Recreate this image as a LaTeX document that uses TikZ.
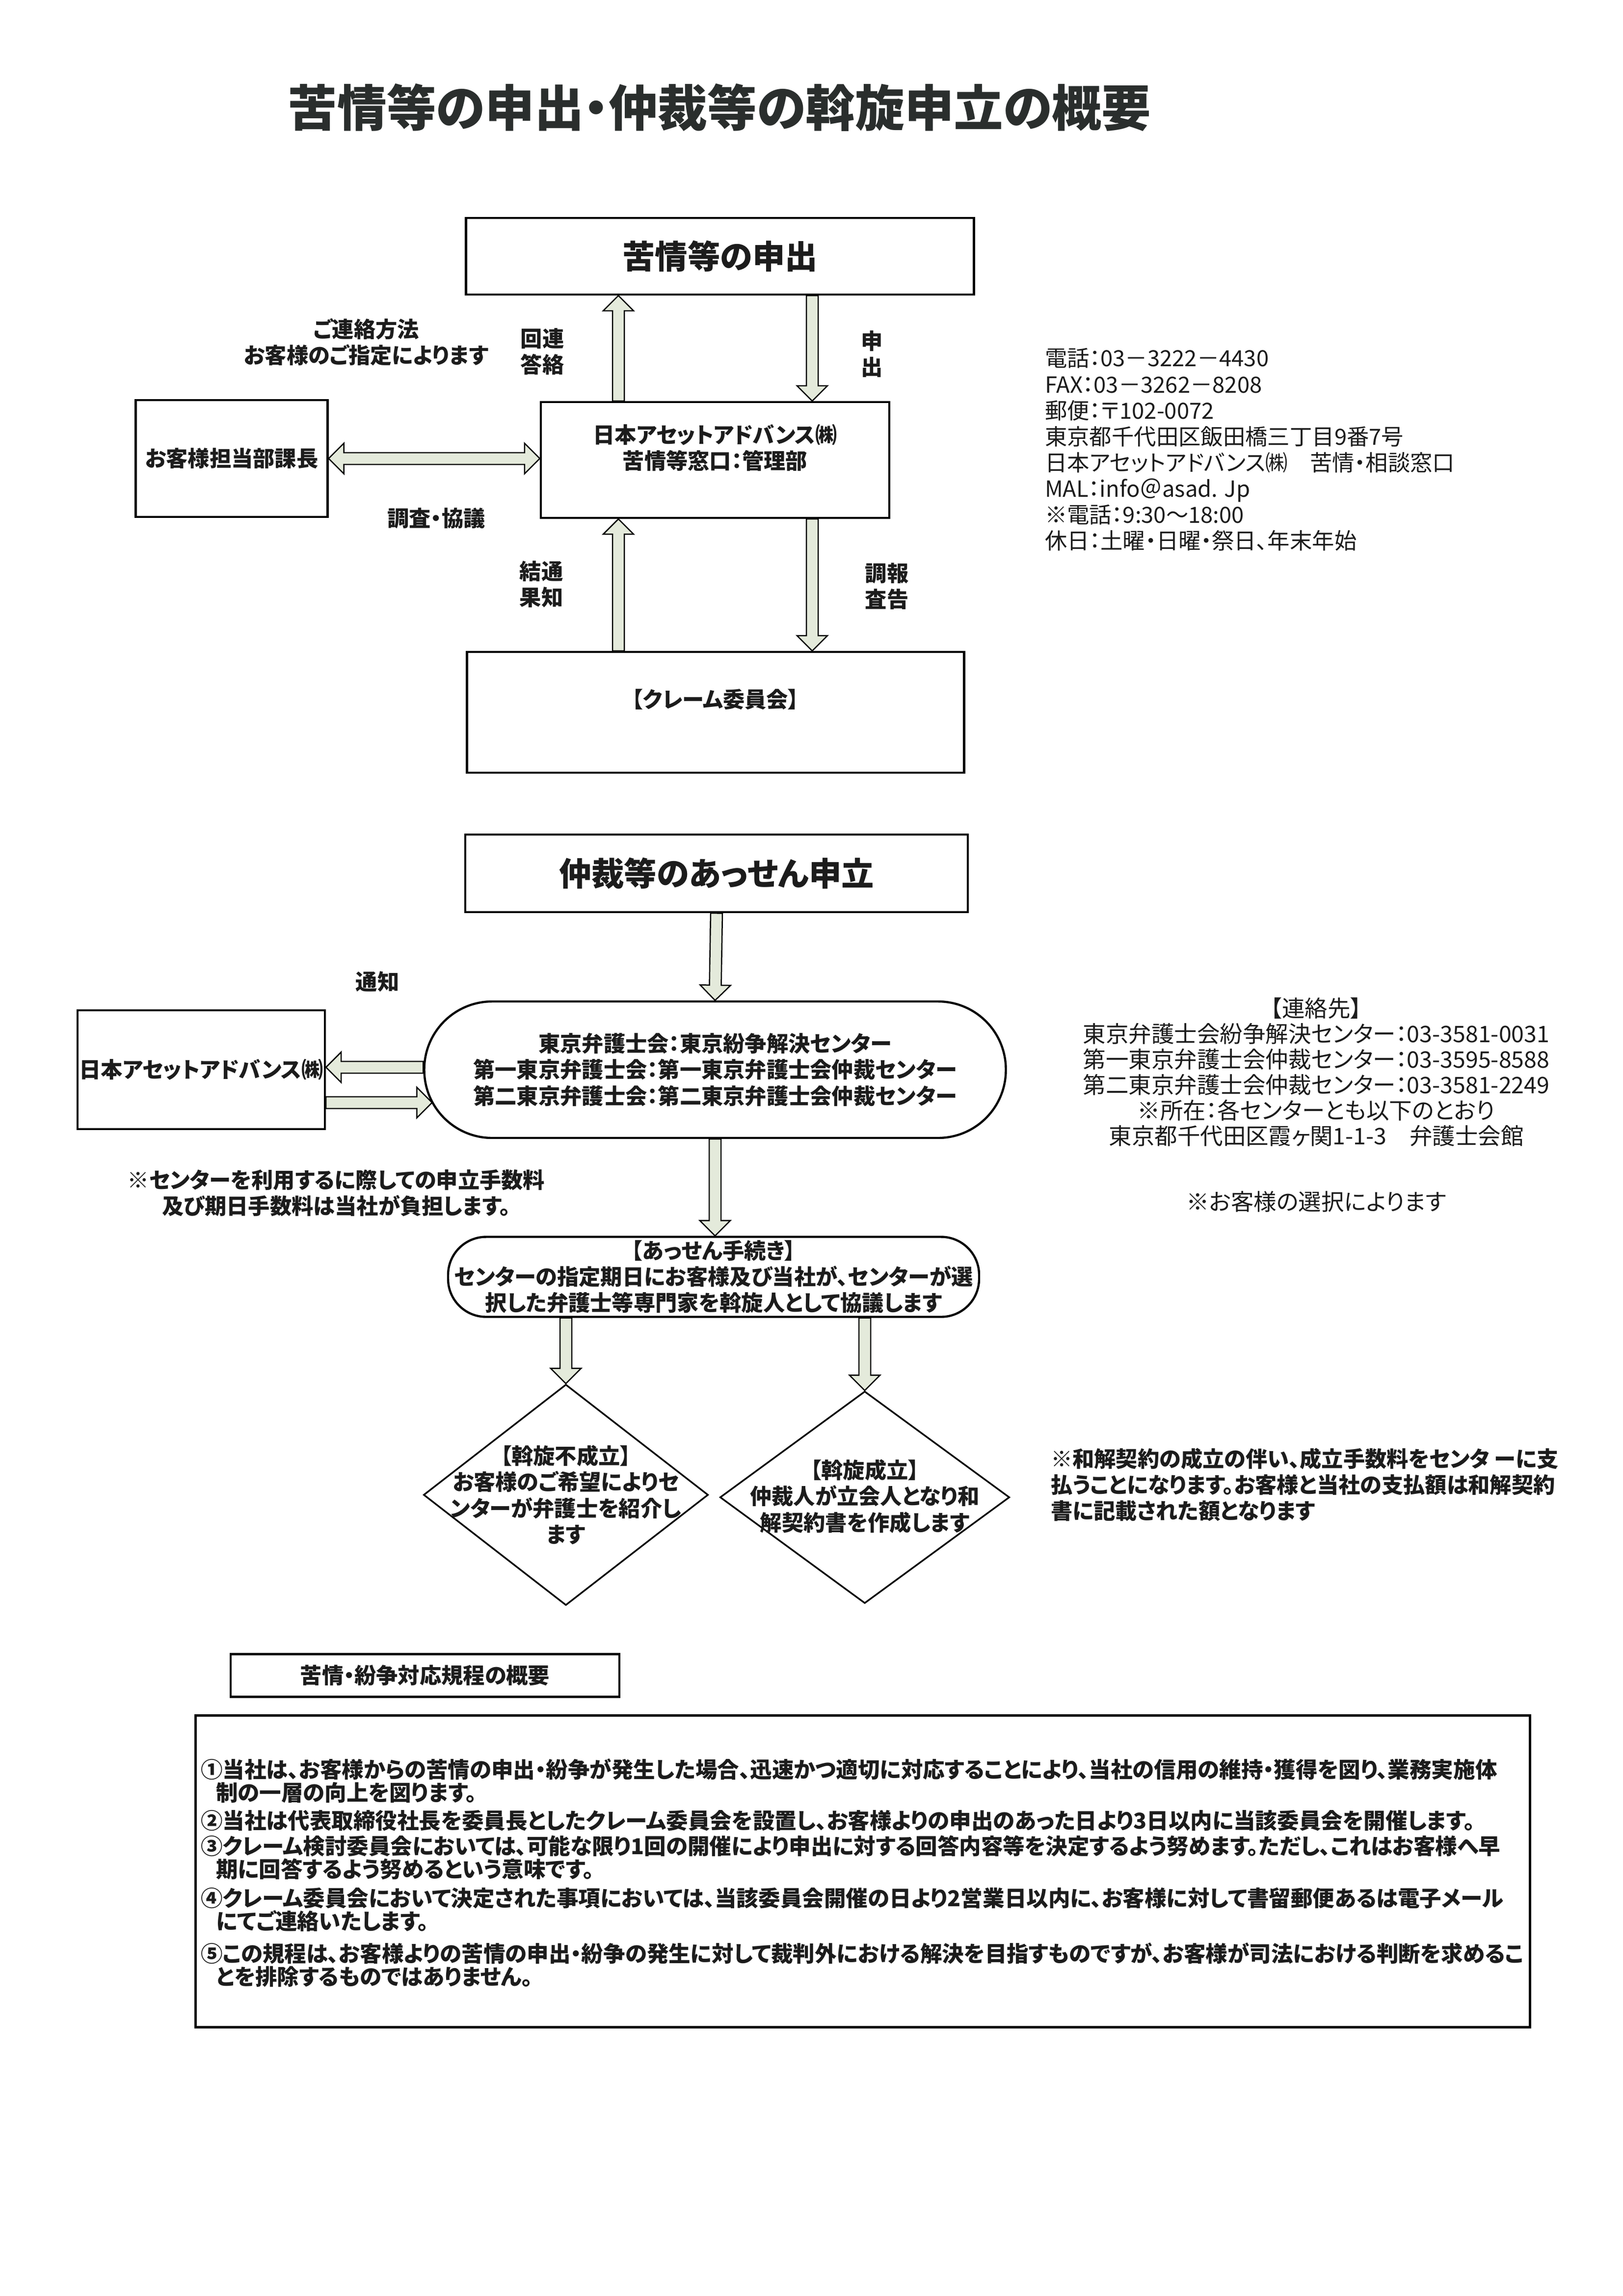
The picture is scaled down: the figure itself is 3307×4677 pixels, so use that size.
\documentclass[tikz,border=0pt]{standalone}
\usepackage{fontspec}
\setmainfont{Noto Sans CJK JP}[CharacterWidth=AlternateProportional]
\usetikzlibrary{calc, shapes.geometric}

\newlength{\dpx}
\setlength{\dpx}{0.0635mm}
\newlength{\shafthalf}\setlength{\shafthalf}{12\dpx}
\newlength{\headhalf}\setlength{\headhalf}{31\dpx}
\newlength{\headlen}\setlength{\headlen}{31\dpx}

\definecolor{ink}{HTML}{1C1C1C}
\definecolor{titleink}{HTML}{2A2E2D}
\definecolor{arrowgreen}{HTML}{E4EADB}

% hollow block arrow from #1 to #2
\newcommand{\blockarrow}[2]{%
  \draw[arrowbody] let \p1=(#1), \p2=(#2),
      \n1={atan2(\y2-\y1,\x2-\x1)}, \n2={veclen(\x2-\x1,\y2-\y1)} in
    ($(\p1)+(\n1+90:\shafthalf)$)
    -- ($(\p1)+(\n1:{\n2-\headlen})+(\n1+90:\shafthalf)$)
    -- ($(\p1)+(\n1:{\n2-\headlen})+(\n1+90:\headhalf)$)
    -- (\p2)
    -- ($(\p1)+(\n1:{\n2-\headlen})+(\n1-90:\headhalf)$)
    -- ($(\p1)+(\n1:{\n2-\headlen})+(\n1-90:\shafthalf)$)
    -- ($(\p1)+(\n1-90:\shafthalf)$) -- cycle;}
% same, with a head on both ends
\newcommand{\dblockarrow}[2]{%
  \draw[arrowbody] let \p1=(#1), \p2=(#2),
      \n1={atan2(\y2-\y1,\x2-\x1)}, \n2={veclen(\x2-\x1,\y2-\y1)} in
    (\p1)
    -- ($(\p1)+(\n1:\headlen)+(\n1+90:\headhalf)$)
    -- ($(\p1)+(\n1:\headlen)+(\n1+90:\shafthalf)$)
    -- ($(\p1)+(\n1:{\n2-\headlen})+(\n1+90:\shafthalf)$)
    -- ($(\p1)+(\n1:{\n2-\headlen})+(\n1+90:\headhalf)$)
    -- (\p2)
    -- ($(\p1)+(\n1:{\n2-\headlen})+(\n1-90:\headhalf)$)
    -- ($(\p1)+(\n1:{\n2-\headlen})+(\n1-90:\shafthalf)$)
    -- ($(\p1)+(\n1:\headlen)+(\n1-90:\shafthalf)$)
    -- ($(\p1)+(\n1:\headlen)+(\n1-90:\headhalf)$) -- cycle;}

\begin{document}
\begin{tikzpicture}[x=\dpx, y=-\dpx,
        box/.style={draw=black, line width=0.8pt, fill=white, inner sep=0pt, text=ink},
        pill/.style={box, rounded corners=#1},
        dia/.style={draw=black, line width=0.6pt, fill=white, diamond, inner sep=0pt},
        arrowbody/.style={draw=black, line width=0.45pt, fill=arrowgreen},
        title/.style={font=\fontsize{18.2}{20}\selectfont\bfseries, text=titleink},
        head/.style={font=\fontsize{12}{14}\selectfont\bfseries, text=ink},
        txt/.style={font=\fontsize{8}{9.6}\selectfont\bfseries, text=ink, align=center, inner sep=0pt},
        info/.style={font=\fontsize{8.2}{9.6}\selectfont, text=ink, inner sep=0pt},
        rule/.style={font=\fontsize{8.05}{8.4}\selectfont\bfseries, text=ink, align=left,
                     inner sep=0pt, anchor=base west},
        ]
        \fill[white] (0,0) rectangle (3307,4677);
        \useasboundingbox (0,0) rectangle (3307,4677);

        \node[title] (heading) at (1466,219) {苦情等の申出・仲裁等の斡旋申立の概要};

        % complaints
        \node[box, head, minimum width=1035\dpx, minimum height=156\dpx] (apply) at (1467,522) {苦情等の申出};
        \node[box, minimum width=710\dpx, minimum height=236\dpx,
              label={[txt, yshift=4.5pt]center:日本アセットアドバンス㈱\\苦情等窓口：管理部}] (window) at (1457,937) {};
        \node[box, txt, minimum width=391\dpx, minimum height=238\dpx] (custmgr) at (472,934) {お客様担当部課長};
        \node[box, minimum width=1013\dpx, minimum height=246\dpx,
              label={[txt, yshift=4.7pt]center:【クレーム委員会】}] (claim) at (1458,1451) {};

        \node[txt] (howcontact) at (746,697) {ご連絡方法\\お客様のご指定によります};
        \node[txt] (replylbl) at (1105,716) {回連\\答絡};
        \node[txt] (applylbl) at (1777,721) {申\\出};
        \node[txt] (consultlbl) at (889,1056) {調査・協議};
        \node[txt] (resultlbl) at (1103,1190) {結通\\果知};
        \node[txt] (reportlbl) at (1807,1194) {調報\\査告};

        \coordinate (colL) at (1260,0);
        \coordinate (colR) at (1655,0);
        \blockarrow{window.north -| colL}{apply.south -| colL}
        \blockarrow{apply.south -| colR}{window.north -| colR}
        \dblockarrow{custmgr.east}{window.west |- custmgr.east}
        \blockarrow{claim.north -| colL}{window.south -| colL}
        \blockarrow{window.south -| colR}{claim.north -| colR}

        \node[info, align=left, anchor=west] (office) at (2128,916) {電話：03－3222－4430\\
            FAX：03－3262－8208\\
            郵便：〒102-0072\\
            東京都千代田区飯田橋三丁目9番7号\\
            日本アセットアドバンス㈱　苦情・相談窓口\\
            MAL：info＠asad. Jp\\
            ※電話：9:30～18:00\\
            休日：土曜・日曜・祭日、年末年始};

        % mediation
        \node[box, head, minimum width=1024\dpx, minimum height=158\dpx] (mediate) at (1460,1779) {仲裁等のあっせん申立};
        \node[pill=25pt, txt, minimum width=1185\dpx, minimum height=278\dpx] (centers) at (1457,2179)
            {東京弁護士会：東京紛争解決センター\\第一東京弁護士会：第一東京弁護士会仲裁センター\\第二東京弁護士会：第二東京弁護士会仲裁センター};
        \node[box, txt, minimum width=504\dpx, minimum height=242\dpx] (company) at (410,2179) {日本アセットアドバンス㈱};
        \node[txt] (notify) at (769,2000) {通知};
        \node[txt] (feenote) at (685,2430) {※センターを利用するに際しての申立手数料\\及び期日手数料は当社が負担します。};
        \node[pill=14pt, txt, minimum width=1082\dpx, minimum height=163\dpx] (procedure) at (1454,2601)
            {【あっせん手続き】\\センターの指定期日にお客様及び当社が、センターが選\\択した弁護士等専門家を斡旋人として協議します};

        \node[dia, minimum width=580\dpx, minimum height=450\dpx] (fail) at (1153,3045) {};
        \node[txt] (failtext) at (fail.center) {【斡旋不成立】\\お客様のご希望によりセ\\ンターが弁護士を紹介し\\ます};
        \node[dia, minimum width=590\dpx, minimum height=432\dpx] (success) at (1762,3050) {};
        \node[txt] (successtext) at (1762,3048) {【斡旋成立】\\仲裁人が立会人となり和\\解契約書を作成します};

        \blockarrow{mediate.south}{centers.north}
        \blockarrow{$(centers.west)+(0,-5)$}{$(company.east)+(0,-5)$}
        \blockarrow{$(company.east)+(0,67)$}{$(centers.west)+(18,67)$}
        \blockarrow{centers.south}{procedure.north -| centers.south}
        \blockarrow{procedure.south -| fail.north}{fail.north}
        \blockarrow{procedure.south -| success.north}{success.north}

        \node[info, font=\fontsize{8.4}{9.4}\selectfont, align=center] (contacts) at (2682,2184) {【連絡先】\\
            東京弁護士会紛争解決センター：03-3581-0031\\
            第一東京弁護士会仲裁センター：03-3595-8588\\
            第二東京弁護士会仲裁センター：03-3581-2249\\
            ※所在：各センターとも以下のとおり\\
            東京都千代田区霞ヶ関1-1-3　弁護士会館};
        \node[info, font=\fontsize{8.4}{9.4}\selectfont] (choice) at (2682,2448) {※お客様の選択によります};
        \node[txt, align=left, anchor=west] (settlenote) at (2140,3024) {※和解契約の成立の伴い、成立手数料をセンタ ーに支\\
            払うことになります。お客様と当社の支払額は和解契約\\書に記載された額となります};

        % rules (base = last line)
        \node[box, txt, minimum width=792\dpx, minimum height=87\dpx] (rulehead) at (866,3413) {苦情・紛争対応規程の概要};
        \node[box, minimum width=2719\dpx, minimum height=635\dpx] (rules) at (1758,3812) {};
        \node[rule] (rule1) at (408,3668) {①当社は、お客様からの苦情の申出・紛争が発生した場合、迅速かつ適切に対応することにより、当社の信用の維持・獲得を図り、業務実施体\\\hspace*{0.7em}制の一層の向上を図ります。};
        \node[rule] (rule2) at (408,3725) {②当社は代表取締役社長を委員長としたクレーム委員会を設置し、お客様よりの申出のあった日より3日以内に当該委員会を開催します。};
        \node[rule] (rule3) at (408,3824) {③クレーム検討委員会においては、可能な限り1回の開催により申出に対する回答内容等を決定するよう努めます。ただし、これはお客様へ早\\\hspace*{0.7em}期に回答するよう努めるという意味です。};
        \node[rule] (rule4) at (408,3930) {④クレーム委員会において決定された事項においては、当該委員会開催の日より2営業日以内に、お客様に対して書留郵便あるは電子メール\\\hspace*{0.7em}にてご連絡いたします。};
        \node[rule] (rule5) at (408,4043) {⑤この規程は、お客様よりの苦情の申出・紛争の発生に対して裁判外における解決を目指すものですが、お客様が司法における判断を求めるこ\\\hspace*{0.7em}とを排除するものではありません。};
\end{tikzpicture}
\end{document}
